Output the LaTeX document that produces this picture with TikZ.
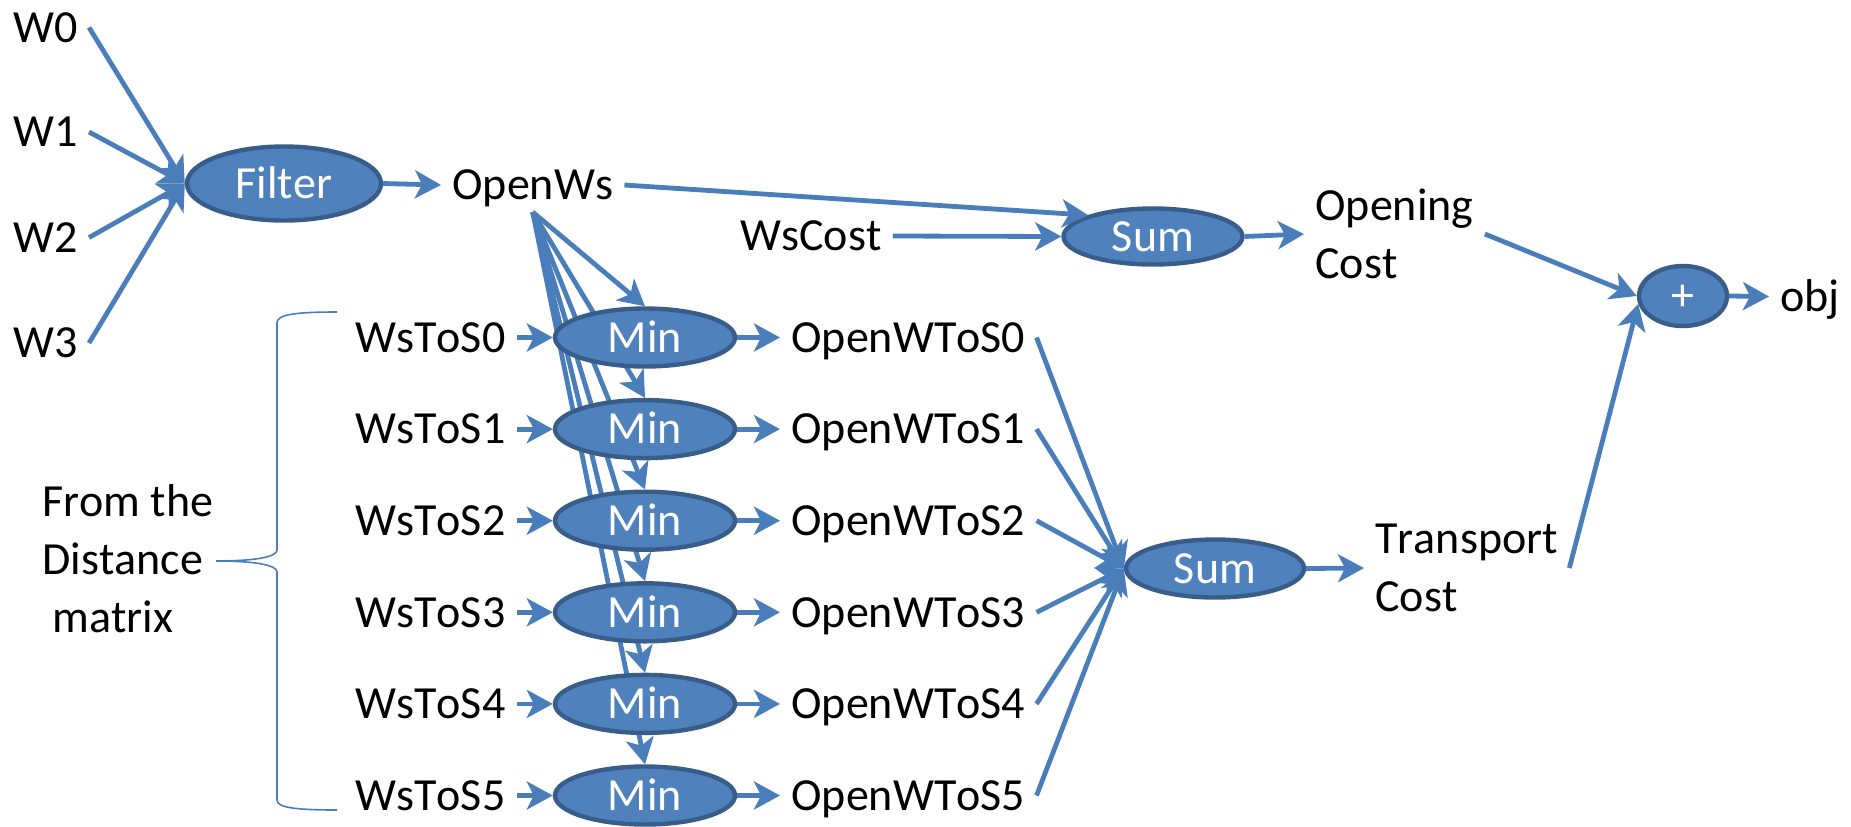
\documentclass[tikz,border=0pt]{standalone}
\usepackage{fontspec}
\setmainfont{Carlito}[Kerning=Off]
\usetikzlibrary{arrows.meta,shapes.geometric}
\definecolor{efill}{HTML}{4F81BD}
\definecolor{eline}{HTML}{385D8A}
\definecolor{cline}{HTML}{4A7EBB}
\pgfdeclarelayer{background}
\pgfsetlayers{background,main}
\begin{document}
\begin{tikzpicture}[x=0.5pt,y=-0.5pt,
  txt/.style={inner xsep=5.5pt, inner ysep=0pt, text height=14.7pt, text depth=0pt, anchor=west, font=\fontsize{23}{29}\selectfont},
  txttwo/.style={inner xsep=5.5pt, inner ysep=0pt, anchor=west, align=left, font=\fontsize{23}{29}\selectfont},
  op/.style={ellipse, fill=efill, draw=eline, line width=2.2pt, inner sep=0pt, text=white, text height=14.7pt, text depth=0pt, font=\fontsize{23}{29}\selectfont},
  conn/.style={draw=cline, line width=2.4pt, -{Stealth[length=13pt,width=14pt,inset=3.5pt]}},
]
\path[use as bounding box] (0,0) rectangle (1851,826);

% inputs
\node[txt] (w0) at (2,27.5) {W0};
\node[txt] (w1) at (2,132) {W1};
\node[txt] (w2) at (2,237.5) {W2};
\node[txt] (w3) at (2,343) {W3};

\node[op, minimum width=97pt, minimum height=37pt] (filter) at (284,183.5) {Filter};
\node[txt] (openws) at (441,185) {OpenWs};
\node[txt] (wscost) at (729,236) {WsCost};
\node[op, minimum width=89.5pt, minimum height=28pt] (sum1) at (1153,236.5) {Sum};
\node[txttwo] (opencost) at (1304,234) {Opening\\Cost};

\node[op, minimum width=44pt, minimum height=30pt] (plus) at (1683,296) {+};
\node[txt] (obj) at (1769,296.5) {obj};

\foreach \i in {0,...,5} {
  \pgfmathsetmacro\yy{337.5+91.6*\i}
  \node[txt] (ws\i) at (344,\yy) {WsToS\i};
  \node[op, minimum width=90pt, minimum height=29pt] (m\i) at (645,\yy) {Min};
  \node[txt] (ow\i) at (780,\yy) {OpenWToS\i};
}

\node[op, minimum width=89pt, minimum height=29pt] (sum2) at (1215,568.5) {Sum};
\node[txttwo] (transport) at (1364,568) {Transport\\Cost};
\node[txttwo] (from) at (31,559) {From the\\Distance\\\hspace{5pt}matrix};

% connectors
\foreach \i in {0,...,3} \draw[conn] (w\i.east) -- (filter.west);
\draw[conn] (filter.east) -- (openws.west);
\coordinate (fan) at ([yshift=-6pt]openws.south);
\begin{pgfonlayer}{background}
\foreach \i in {0,...,5} \draw[conn] (fan) -- (m\i.north);
\end{pgfonlayer}
\draw[conn] (openws.east) -- (sum1.north west);
\draw[conn] (wscost.east) -- (sum1.west);
\draw[conn] (sum1.east) -- (opencost.west);
\foreach \i in {0,...,5} {
  \draw[conn] (ws\i.east) -- (m\i.west);
  \draw[conn] (m\i.east) -- (ow\i.west);
  \draw[conn] (ow\i.east) -- (sum2.west);
}
\draw[conn] (sum2.east) -- (transport.west);
\draw[conn] (opencost.east) -- (plus.west);
\draw[conn] (transport.east) -- (plus.190);
\draw[conn] (plus.east) -- (obj.west);

% brace
\draw[cline, line width=0.8pt] (337,312) .. controls (292,312) and (277,315) .. (277,323) -- (277,550) .. controls (277,557) and (255,561) .. (216,561) .. controls (255,561) and (277,565) .. (277,572) -- (277,800) .. controls (277,807) and (292,810) .. (337,810);
\end{tikzpicture}
\end{document}
